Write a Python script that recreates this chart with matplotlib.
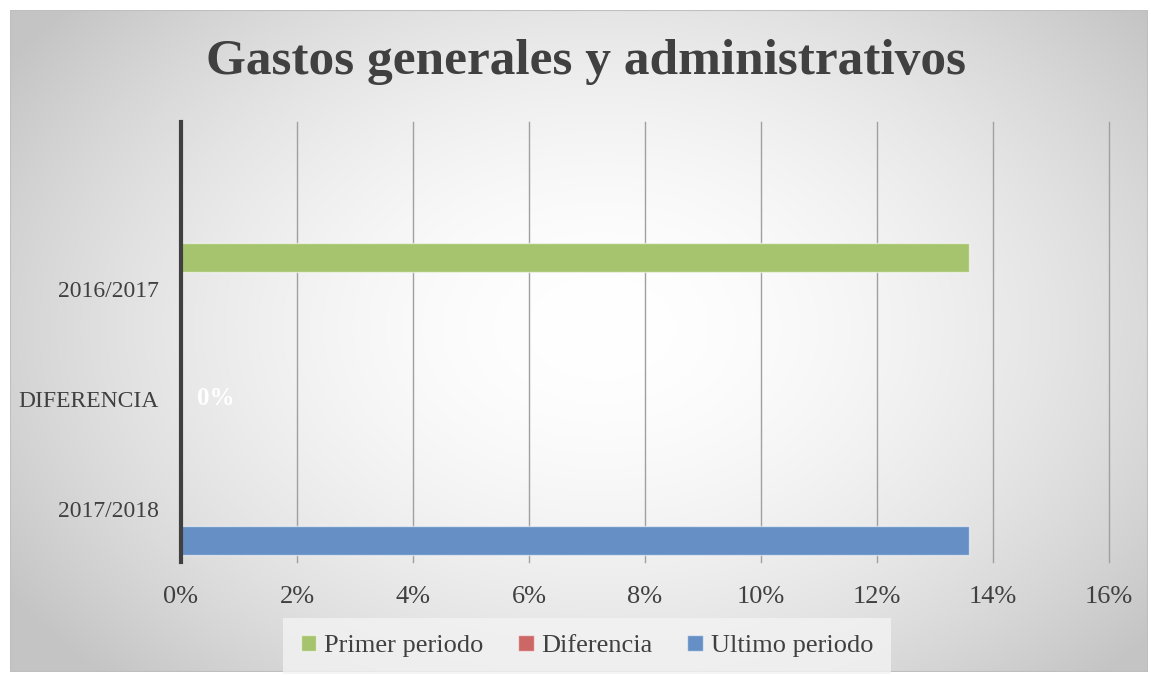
import numpy as np
import matplotlib.pyplot as plt
from matplotlib.ticker import PercentFormatter
from matplotlib.patches import Rectangle

categorias = ['2016/2017', 'DIFERENCIA', '2017/2018']
series = ['Primer periodo', 'Diferencia', 'Ultimo periodo']
valores = [0.1358, 0.0, 0.1358]
colores = ['#A6C46E', '#CC6766', '#6690C5']
etiqueta_dif = '0%'

W, H = 1151, 676
fig = plt.figure(figsize=(W / 100, H / 100), dpi=100)
fig.patch.set_facecolor('white')

# fondo con degradado radial (estilo Excel)
bg = fig.add_axes([10 / W, 4 / H, 1138 / W, 662 / H])
yy, xx = np.mgrid[0:1:300j, 0:1:500j]
d = np.sqrt(((xx - 0.52) / 0.62) ** 2 + ((yy - 0.52) / 0.75) ** 2)
g = np.clip(1.0 - 0.23 * d ** 1.8, 0.77, 1.0)
bg.imshow(np.dstack([g, g, g]), aspect='auto', extent=[0, 1, 0, 1], origin='lower')
bg.add_patch(Rectangle((0, 0), 1, 1, fill=False, edgecolor='#bfbfbf', lw=1.5,
                       transform=bg.transAxes))
bg.set_axis_off()

ax = fig.add_axes([181 / W, 1 - 562 / H, (1109 - 181) / W, 440 / H])
ax.set_facecolor('none')

pos = np.arange(len(categorias))
alto = 0.265
for i, (nombre, v, c) in enumerate(zip(series, valores, colores)):
    ax.barh(pos[i] + (i - 1) * 0.29, v, height=alto, color=c, label=nombre,
            edgecolor=(1, 1, 1, 0.55), linewidth=1.0, zorder=3)

ax.text(0.0028, pos[1], etiqueta_dif, color='white', fontsize=18, fontweight='bold',
        family='Liberation Serif', va='center', ha='left', zorder=4)

ax.set_xlim(0, 0.16)
ax.set_ylim(2.482, -1.518)
ax.set_xticks(np.arange(0, 0.161, 0.02))
ax.xaxis.set_major_formatter(PercentFormatter(1.0, decimals=0))
ax.set_yticks(pos)
ax.set_yticklabels(categorias)
ax.grid(axis='x', color='#a0a0a0', lw=1.0, zorder=0)
for gl in ax.get_xgridlines():
    gl.set_clip_on(False)
for s in ['top', 'right', 'bottom']:
    ax.spines[s].set_visible(False)
ax.spines['left'].set_color('#404040')
ax.spines['left'].set_linewidth(3)
ax.spines['left'].set_zorder(5)
ax.tick_params(length=0, labelcolor='#404040')
ax.tick_params(axis='x', pad=17, labelsize=19)
ax.tick_params(axis='y', pad=16, labelsize=17)
for lab in ax.get_xticklabels() + ax.get_yticklabels():
    lab.set_family('Liberation Serif')

fig.text(586 / W, 1 - 62 / H, 'Gastos generales y administrativos', ha='center',
         va='center', fontsize=37, fontweight='bold', color='#404040',
         family='Liberation Serif')

leg = fig.legend(loc='center', bbox_to_anchor=(587 / W, 1 - 646 / H), ncol=3,
                 frameon=True, handlelength=0.6, handleheight=0.6,
                 handletextpad=0.3, columnspacing=1.3, borderpad=0.35,
                 prop={'family': 'Liberation Serif', 'size': 19})
leg.get_frame().set_facecolor('#f3f3f3')
leg.get_frame().set_edgecolor('none')
leg.get_frame().set_boxstyle('square')
for t in leg.get_texts():
    t.set_color('#404040')

plt.savefig('out.png', dpi=100)
